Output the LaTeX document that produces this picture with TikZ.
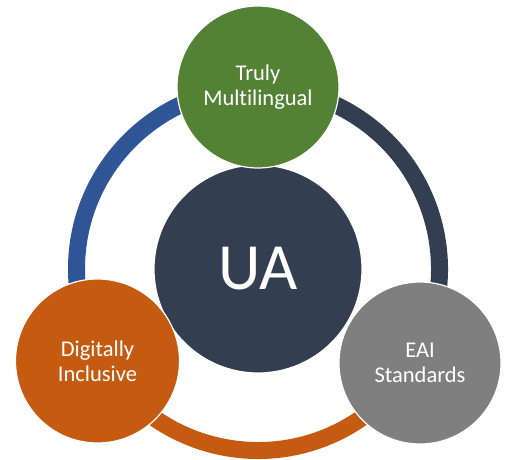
\documentclass[tikz,border=0pt]{standalone}
\usepackage{fontspec}
\setmainfont{Carlito}[Ligatures={NoCommon}]
\usetikzlibrary{calc}
\definecolor{cgreen}{HTML}{548235}
\definecolor{cnavy}{HTML}{333F50}
\definecolor{cblue}{HTML}{2F5597}
\definecolor{corange}{HTML}{C55A11}
\definecolor{cgray}{HTML}{7F7F7F}
\tikzset{
  bub/.style={circle, draw=white, line width=1.2pt, inner sep=0pt, minimum size=162pt, text=white, align=center, font=\fontsize{22.5}{25}\selectfont},
  ringarc/.style={line width=17pt, line cap=butt}
}
\begin{document}
\begin{tikzpicture}[x=1pt,y=1pt]
\useasboundingbox (0,0) rectangle (515,-460);
\coordinate (C) at (258,-269);
\draw[ringarc, cblue] ($(C)+(90:181.5)$) arc[start angle=90, end angle=212, radius=181.5];
\draw[ringarc, cnavy] ($(C)+(-32:181.5)$) arc[start angle=-32, end angle=90, radius=181.5];
\draw[ringarc, corange] ($(C)+(212:181.5)$) arc[start angle=212, end angle=328, radius=181.5];
\node[bub, fill=cnavy, minimum size=208pt, font=\fontsize{66}{70}\selectfont] (ua) at (C) {UA};
\node[bub, fill=cgreen] (tm) at (258,-87) {Truly\\Multilingual};
\node[bub, fill=corange, minimum size=164pt] (di) at (97.5,-361) {Digitally\\Inclusive};
\node[bub, fill=cgray] (eai) at (420,-363) {EAI\\Standards};
\end{tikzpicture}
\end{document}
